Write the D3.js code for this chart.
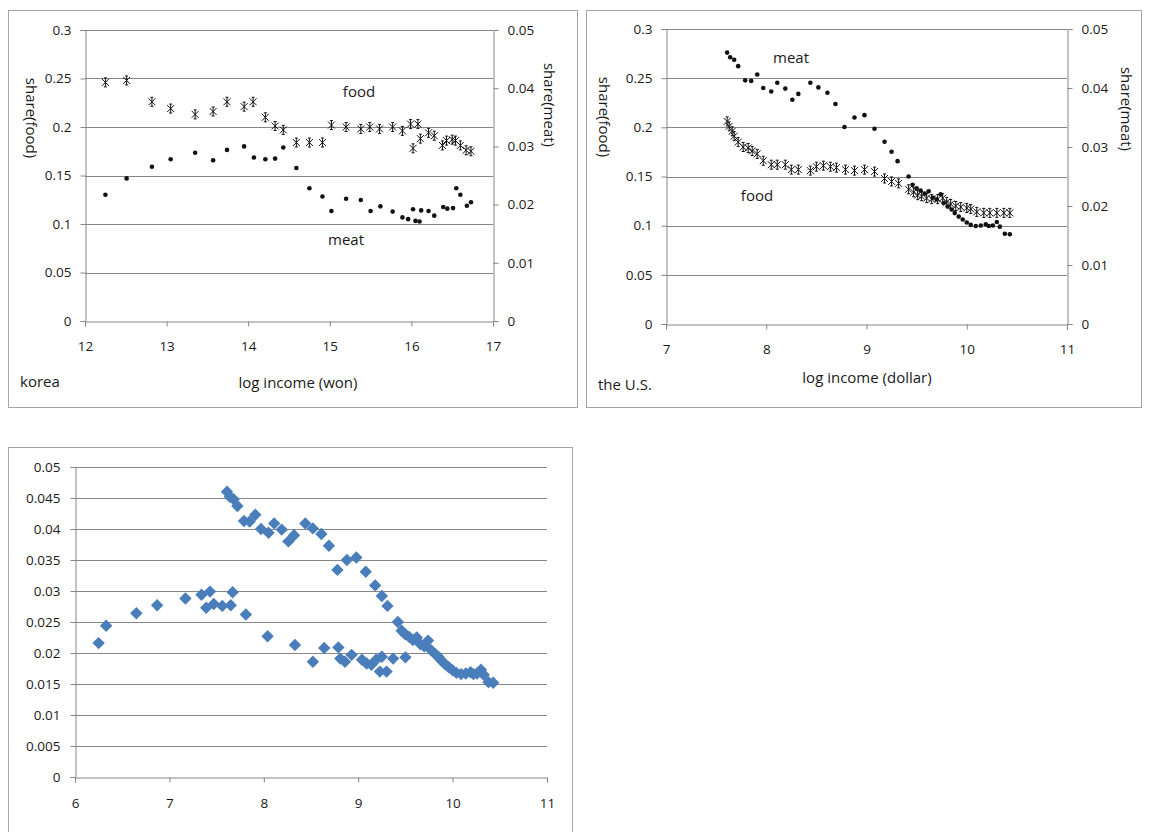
<!DOCTYPE html>
<html>
<head>
<meta charset="utf-8">
<script src="https://cdn.jsdelivr.net/npm/d3@7"></script>
<style>
  body { margin: 0; background: #fff; }
  svg { display: block; }
  text { font-family: "Open Sans", "Noto Sans", sans-serif; fill: #1a1a1a; }
</style>
</head>
<body>
<svg id="chart" width="1152" height="832"></svg>
<script>
// ---- Korea: expenditure shares against log income (won) ----
const koreaFood = [
  [12.25,0.246],[12.51,0.248],[12.82,0.226],[13.05,0.219],[13.35,0.213],[13.57,0.216],
  [13.74,0.226],[13.95,0.221],[14.06,0.226],[14.21,0.210],[14.33,0.201],[14.43,0.197],
  [14.59,0.184],[14.75,0.184],[14.91,0.184],[15.02,0.202],[15.20,0.200],[15.38,0.198],
  [15.49,0.200],[15.61,0.198],[15.77,0.200],[15.89,0.196],[15.99,0.203],[16.02,0.178],
  [16.08,0.203],[16.11,0.188],[16.21,0.194],[16.28,0.191],[16.38,0.181],[16.43,0.186],
  [16.50,0.187],[16.54,0.186],[16.60,0.181],[16.67,0.176],[16.73,0.175]
];
const koreaMeat = [
  [12.25,0.0217],[12.51,0.0245],[12.82,0.0265],[13.05,0.0278],[13.35,0.0289],[13.57,0.0276],
  [13.74,0.0294],[13.95,0.0300],[14.07,0.0281],[14.21,0.0278],[14.33,0.0279],[14.43,0.0298],
  [14.59,0.0263],[14.75,0.0228],[14.91,0.0214],[15.02,0.0189],[15.20,0.0210],[15.38,0.0208],
  [15.50,0.0189],[15.62,0.0197],[15.77,0.0188],[15.89,0.0178],[15.96,0.0175],[16.02,0.0192],
  [16.05,0.0172],[16.10,0.0171],[16.12,0.0190],[16.21,0.0189],[16.28,0.0181],[16.39,0.0196],
  [16.44,0.0193],[16.51,0.0194],[16.55,0.0228],[16.60,0.0217],[16.68,0.0198],[16.73,0.0204]
];

// ---- the U.S.: expenditure shares against log income (dollar) ----
const usFood = [
  [7.61,0.206],[7.63,0.201],[7.66,0.196],[7.68,0.191],[7.72,0.185],[7.77,0.180],[7.82,0.179],
  [7.86,0.176],[7.91,0.173],[7.97,0.166],[8.05,0.162],[8.11,0.162],[8.19,0.162],[8.25,0.157],
  [8.32,0.157],[8.44,0.156],[8.50,0.160],[8.57,0.161],[8.64,0.160],[8.70,0.159],[8.79,0.157],
  [8.88,0.156],[8.98,0.157],[9.08,0.155],[9.18,0.148],[9.25,0.145],[9.32,0.143],[9.42,0.137],
  [9.47,0.134],[9.51,0.131],[9.55,0.130],[9.60,0.128],[9.65,0.127],[9.71,0.127],[9.76,0.128],
  [9.80,0.124],[9.84,0.122],[9.89,0.120],[9.94,0.119],[10.00,0.118],[10.04,0.117],[10.10,0.114],
  [10.17,0.113],[10.23,0.113],[10.30,0.113],[10.37,0.113],[10.43,0.113]
];
const usMeat = [
  [7.61,0.0460],[7.64,0.0452],[7.68,0.0448],[7.72,0.0437],[7.79,0.0413],[7.85,0.0412],
  [7.91,0.0423],[7.97,0.0400],[8.05,0.0394],[8.11,0.0409],[8.19,0.0399],[8.26,0.0380],
  [8.32,0.0390],[8.44,0.0409],[8.52,0.0401],[8.61,0.0392],[8.69,0.0373],[8.78,0.0334],
  [8.88,0.0350],[8.98,0.0354],[9.08,0.0331],[9.18,0.0309],[9.25,0.0292],[9.31,0.0276],
  [9.42,0.0250],[9.46,0.0236],[9.50,0.0230],[9.54,0.0226],[9.58,0.0221],[9.62,0.0225],
  [9.66,0.0214],[9.70,0.0211],[9.74,0.0220],[9.77,0.0205],[9.81,0.0199],[9.85,0.0194],
  [9.88,0.0188],[9.92,0.0182],[9.96,0.0177],[10.00,0.0172],[10.04,0.0168],[10.09,0.0166],
  [10.14,0.0167],[10.19,0.0169],[10.22,0.0166],[10.26,0.0167],[10.30,0.0173],[10.33,0.0165],
  [10.38,0.0153],[10.43,0.0152]
];

// ---- Korean meat share against income converted to dollars ----
const koreaMeatUsd = [
  [6.25,0.0216],[6.33,0.0244],[6.65,0.0264],[6.87,0.0277],[7.17,0.0288],[7.34,0.0294],
  [7.39,0.0273],[7.43,0.0299],[7.47,0.0279],[7.56,0.0276],[7.65,0.0277],[7.67,0.0298],
  [7.81,0.0262],[8.04,0.0227],[8.33,0.0213],[8.52,0.0186],[8.64,0.0208],[8.79,0.0209],
  [8.81,0.0191],[8.86,0.0186],[8.93,0.0197],[9.04,0.0189],[9.09,0.0183],[9.14,0.0181],
  [9.19,0.0189],[9.23,0.0170],[9.25,0.0194],[9.30,0.0170],[9.37,0.0191],[9.50,0.0193]
];

// ---- tick values ----
const foodTicks = [0, 0.05, 0.1, 0.15, 0.2, 0.25, 0.3];
const meatTicks = [0, 0.01, 0.02, 0.03, 0.04, 0.05];
const koreaIncomeTicks = [12, 13, 14, 15, 16, 17];
const usIncomeTicks = [7, 8, 9, 10, 11];
const pooledIncomeTicks = [6, 7, 8, 9, 10, 11];
const pooledShareTicks = [0, 0.005, 0.01, 0.015, 0.02, 0.025, 0.03, 0.035, 0.04, 0.045, 0.05];

const svg = d3.select("#chart");
const LINE = "#868686";
const FRAME = "#a6a6a6";
const TICK_FONT = "13.5px";
const LABEL_FONT = "15px";
const fmt = d => d === 0 ? "0" : String(+d.toFixed(3));

// Excel-style star marker: an X crossed by a vertical bar
const starPath = "M-3.5,-3.5L3.5,3.5M-3.5,3.5L3.5,-3.5M0,-4.5L0,4.5M-1.5,-4.5L1.5,-4.5M-1.5,4.5L1.5,4.5";

function styleAxis(g) {
  g.select(".domain").attr("stroke", LINE);
  g.selectAll(".tick line").attr("stroke", LINE);
  g.selectAll(".tick text").style("font-size", TICK_FONT).attr("fill", "#1a1a1a");
}

function frame(x, y, w, h) {
  svg.append("rect").attr("x", x + 0.5).attr("y", y + 0.5).attr("width", w).attr("height", h)
    .attr("fill", "#fff").attr("stroke", FRAME);
}

function gridlines(g, ticks, y, x0, x1) {
  g.selectAll("line.grid").data(ticks.filter(t => t > 0)).join("line")
    .attr("class", "grid")
    .attr("x1", x0).attr("x2", x1)
    .attr("y1", d => Math.round(y(d)) + 0.5).attr("y2", d => Math.round(y(d)) + 0.5)
    .attr("stroke", LINE);
}

function label(text, x, y, opts = {}) {
  const t = svg.append("text").text(text)
    .attr("x", x).attr("y", y)
    .attr("text-anchor", opts.anchor || "middle")
    .attr("dominant-baseline", "central")
    .style("font-size", opts.size || LABEL_FONT);
  if (opts.rotate) t.attr("transform", `rotate(${opts.rotate},${x},${y})`);
  return t;
}

// Panel with food share on the left axis and meat share on the right axis
function dualPanel(c) {
  frame(c.frame[0], c.frame[1], c.frame[2], c.frame[3]);
  const x = d3.scaleLinear().domain(c.xDomain).range([c.plot.x0, c.plot.x1]);
  const yFood = d3.scaleLinear().domain([0, 0.3]).range([c.plot.y1, c.plot.y0]);
  const yMeat = d3.scaleLinear().domain([0, 0.05]).range([c.plot.y1, c.plot.y0]);
  const g = svg.append("g");
  gridlines(g, foodTicks, yFood, c.plot.x0, c.plot.x1);

  g.append("g").attr("transform", `translate(${c.plot.x0 + 0.5},0)`)
    .call(d3.axisLeft(yFood).tickValues(foodTicks).tickFormat(fmt).tickSizeOuter(0).tickSize(5).tickPadding(9))
    .call(styleAxis);
  g.append("g").attr("transform", `translate(${c.plot.x1 + 0.5},0)`)
    .call(d3.axisRight(yMeat).tickValues(meatTicks).tickFormat(fmt).tickSizeOuter(0).tickSize(5).tickPadding(9))
    .call(styleAxis);
  g.append("g").attr("transform", `translate(0,${c.plot.y1 + 0.5})`)
    .call(d3.axisBottom(x).tickValues(c.xTicks).tickFormat(d3.format("d")).tickSizeOuter(0).tickSize(5).tickPadding(c.xPad))
    .call(styleAxis);

  g.append("g").selectAll("path").data(c.food).join("path")
    .attr("d", starPath)
    .attr("transform", d => `translate(${x(d[0])},${yFood(d[1])})`)
    .attr("fill", "none").attr("stroke", "#111").attr("stroke-width", 1);
  g.append("g").selectAll("circle").data(c.meat).join("circle")
    .attr("cx", d => x(d[0])).attr("cy", d => yMeat(d[1])).attr("r", 2.3)
    .attr("fill", "#111");

  label("share(food)", c.leftTitle[0], c.leftTitle[1], { rotate: 90 });
  label("share(meat)", c.rightTitle[0], c.rightTitle[1], { rotate: 90 });
  label(c.xTitle, c.xTitlePos[0], c.xTitlePos[1]);
  label(c.country, c.countryPos[0], c.countryPos[1], { anchor: "start" });
  label("food", c.foodTag[0], c.foodTag[1]);
  label("meat", c.meatTag[0], c.meatTag[1]);
}

dualPanel({
  frame: [8, 10, 569, 397],
  plot: { x0: 85, x1: 493, y0: 30, y1: 321 },
  xDomain: [12, 17], xTicks: koreaIncomeTicks, xPad: 15,
  food: koreaFood, meat: koreaMeat,
  leftTitle: [32, 118], rightTitle: [550, 105],
  xTitle: "log income (won)", xTitlePos: [298, 382],
  country: "korea", countryPos: [20, 381],
  foodTag: [359, 91], meatTag: [346, 239]
});

dualPanel({
  frame: [586, 10, 555, 397],
  plot: { x0: 666, x1: 1067, y0: 29, y1: 324 },
  xDomain: [7, 11], xTicks: usIncomeTicks, xPad: 15,
  food: usFood, meat: usMeat,
  leftTitle: [605, 117], rightTitle: [1127, 109],
  xTitle: "log income (dollar)", xTitlePos: [867, 377],
  country: "the U.S.", countryPos: [598, 384],
  foodTag: [757, 195], meatTag: [791, 57]
});

// Pooled meat shares of both countries on a common dollar income axis
(function pooledPanel() {
  frame(8, 447, 564, 400);
  const x0 = 75, x1 = 547, yTop = 467, yBottom = 777;
  const x = d3.scaleLinear().domain([6, 11]).range([x0, x1]);
  const y = d3.scaleLinear().domain([0, 0.05]).range([yBottom, yTop]);
  const g = svg.append("g");
  gridlines(g, pooledShareTicks, y, x0, x1);
  g.append("g").attr("transform", `translate(${x0 + 0.5},0)`)
    .call(d3.axisLeft(y).tickValues(pooledShareTicks).tickFormat(fmt).tickSizeOuter(0).tickSize(5).tickPadding(10))
    .call(styleAxis);
  g.append("g").attr("transform", `translate(0,${yBottom + 0.5})`)
    .call(d3.axisBottom(x).tickValues(pooledIncomeTicks).tickFormat(d3.format("d")).tickSizeOuter(0).tickSize(5).tickPadding(16))
    .call(styleAxis);

  const diamond = "M0,-6.2L6.2,0L0,6.2L-6.2,0Z";
  const points = usMeat.concat(koreaMeatUsd);
  g.append("g").selectAll("path").data(points).join("path")
    .attr("d", diamond)
    .attr("transform", d => `translate(${x(d[0])},${y(d[1])})`)
    .attr("fill", "#4a7ebb");
})();
</script>
</body>
</html>
